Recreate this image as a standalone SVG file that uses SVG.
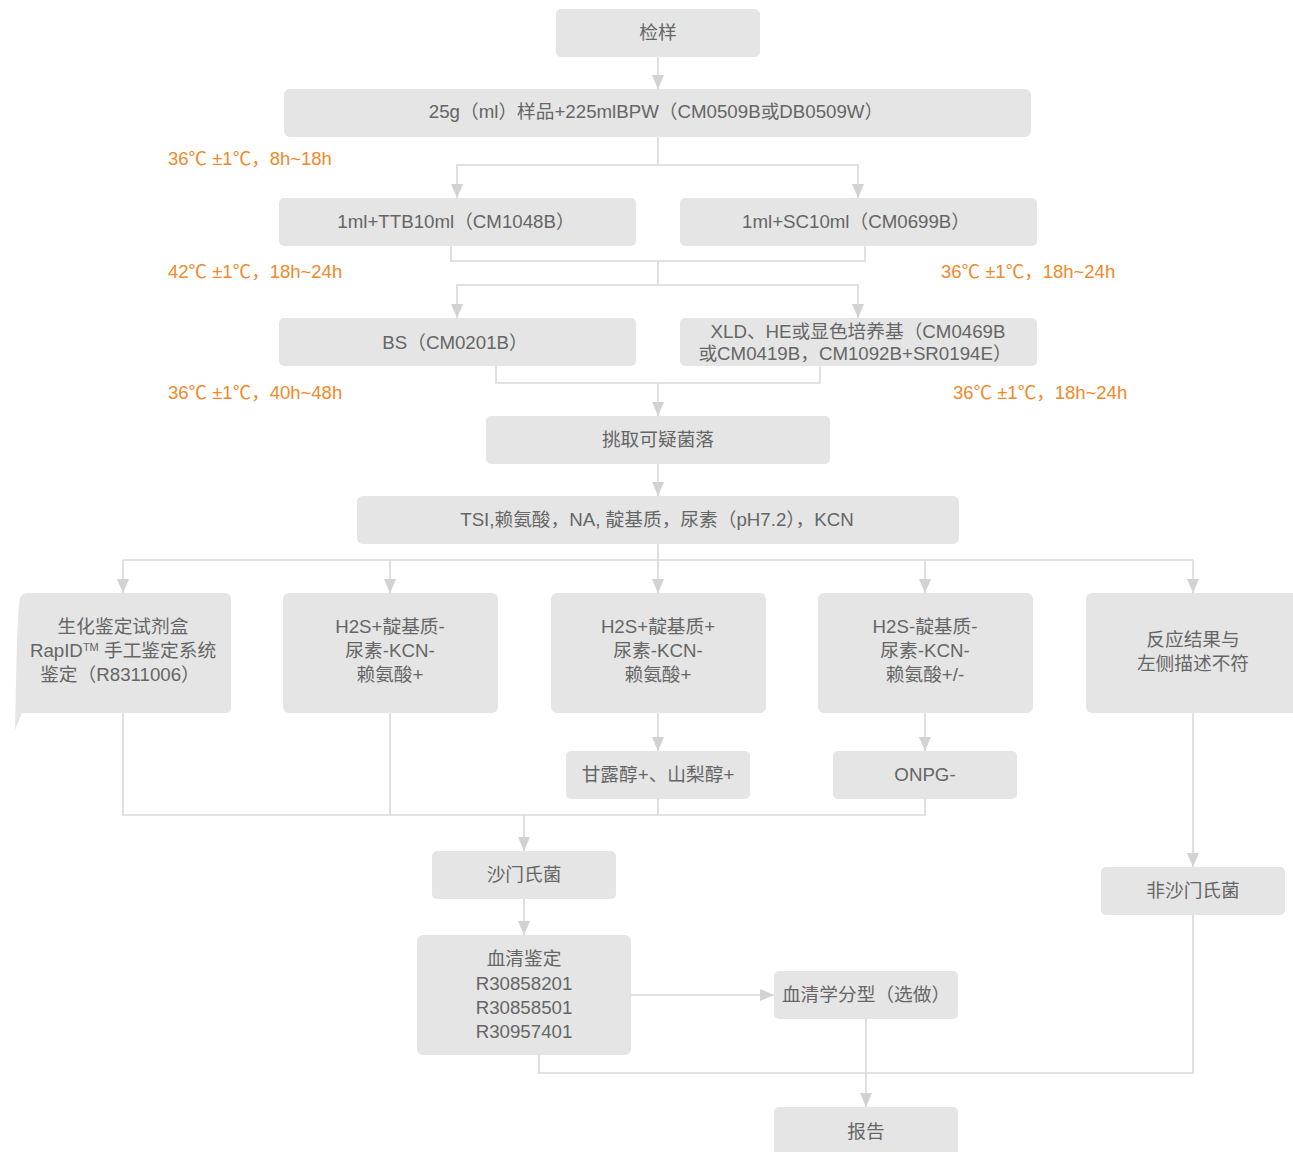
<svg xmlns="http://www.w3.org/2000/svg" width="1293" height="1152" viewBox="0 0 1293 1152">
<style>
.box{fill:#e5e5e5;}
.t{font-family:"Liberation Sans","Noto Sans CJK SC",sans-serif;font-size:18.7px;fill:#666;text-anchor:middle;}
.o{font-family:"Liberation Sans","Noto Sans CJK SC",sans-serif;font-size:18.5px;fill:#f0892a;}
.c{fill:none;stroke:#d9d9d9;stroke-width:1.6;}
</style>
<defs>
<marker id="ar" markerUnits="userSpaceOnUse" markerWidth="14" markerHeight="16" refX="14" refY="6" orient="auto">
<path d="M0,0 L14,6 L0,12 Z" fill="#d2d2d2"/>
</marker>
</defs>
<rect width="1293" height="1152" fill="#fff"/>

<g id="connectors">
<path class="c" d="M658,57 V89" marker-end="url(#ar)"/>
<path class="c" d="M658,137 V165 H457 V198" marker-end="url(#ar)"/>
<path class="c" d="M658,165 H858 V198" marker-end="url(#ar)"/>
<path class="c" d="M451,246 V261 H865 V246"/>
<path class="c" d="M658,261 V285 H457 V318" marker-end="url(#ar)"/>
<path class="c" d="M658,285 H858 V318" marker-end="url(#ar)"/>
<path class="c" d="M496,366 V383 H820 V366"/>
<path class="c" d="M658,383 V416" marker-end="url(#ar)"/>
<path class="c" d="M658,464 V496" marker-end="url(#ar)"/>
<path class="c" d="M658,544 V560"/>
<path class="c" d="M123,560 H1193"/>
<path class="c" d="M123,560 V593" marker-end="url(#ar)"/>
<path class="c" d="M390,560 V593" marker-end="url(#ar)"/>
<path class="c" d="M658,560 V593" marker-end="url(#ar)"/>
<path class="c" d="M925,560 V593" marker-end="url(#ar)"/>
<path class="c" d="M1193,560 V593" marker-end="url(#ar)"/>
<path class="c" d="M658,713 V751" marker-end="url(#ar)"/>
<path class="c" d="M925,713 V751" marker-end="url(#ar)"/>
<path class="c" d="M123,713 V815 H925 V799"/>
<path class="c" d="M390,713 V815"/>
<path class="c" d="M658,799 V815"/>
<path class="c" d="M524,815 V851" marker-end="url(#ar)"/>
<path class="c" d="M1193,713 V867" marker-end="url(#ar)"/>
<path class="c" d="M524,899 V935" marker-end="url(#ar)"/>
<path class="c" d="M631,995 H774" marker-end="url(#ar)"/>
<path class="c" d="M539,1055 V1073 H1193 V915"/>
<path class="c" d="M866,1019 V1107" marker-end="url(#ar)"/>
</g>

<g id="labels">
<text class="o" x="168" y="165">36℃ ±1℃，8h~18h</text>
<text class="o" x="168" y="278">42℃ ±1℃，18h~24h</text>
<text class="o" x="941" y="278">36℃ ±1℃，18h~24h</text>
<text class="o" x="168" y="399">36℃ ±1℃，40h~48h</text>
<text class="o" x="953" y="399">36℃ ±1℃，18h~24h</text>
</g>

<g id="n1"><rect class="box" x="556" y="9" width="204" height="48" rx="5"/><text class="t" x="658" y="39">检样</text></g>
<g id="n2"><rect class="box" x="284" y="89" width="747" height="48" rx="6"/><text class="t" x="656" y="118">25g（ml）样品+225mlBPW（CM0509B或DB0509W）</text></g>
<g id="n3"><rect class="box" x="279" y="198" width="357" height="48" rx="5"/><text class="t" x="456" y="228">1ml+TTB10ml（CM1048B）</text></g>
<g id="n4"><rect class="box" x="680" y="198" width="357" height="48" rx="5"/><text class="t" x="856" y="228">1ml+SC10ml（CM0699B）</text></g>
<g id="n5"><rect class="box" x="279" y="318" width="357" height="48" rx="5"/><text class="t" x="455" y="349">BS（CM0201B）</text></g>
<g id="n6"><rect class="box" x="680" y="318" width="357" height="48" rx="5"/><text class="t" x="858" y="338">XLD、HE或显色培养基（CM0469B</text><text class="t" x="855" y="360">或CM0419B，CM1092B+SR0194E）</text></g>
<g id="n7"><rect class="box" x="486" y="416" width="344" height="48" rx="5"/><text class="t" x="658" y="446">挑取可疑菌落</text></g>
<g id="n8"><rect class="box" x="357" y="496" width="602" height="48" rx="6"/><text class="t" x="657" y="526">TSI,赖氨酸，NA, 靛基质，尿素（pH7.2），KCN</text></g>
<g id="n9"><path class="box" d="M27,593 H225 Q231,593 231,599 V707 Q231,713 225,713 H22 L15,730 L16,680 L17,640 L19,603 Q20,593 27,593 Z"/><text class="t" x="123" y="633">生化鉴定试剂盒</text><text class="t" x="123" y="657">RapID<tspan font-size="11" dy="-6">TM</tspan><tspan dy="6"> 手工鉴定系统</tspan></text><text class="t" x="120" y="681">鉴定（R8311006）</text></g>
<g id="n10"><rect class="box" x="283" y="593" width="215" height="120" rx="6"/><text class="t" x="390" y="633">H2S+靛基质-</text><text class="t" x="390" y="657">尿素-KCN-</text><text class="t" x="390" y="681">赖氨酸+</text></g>
<g id="n11"><rect class="box" x="551" y="593" width="215" height="120" rx="6"/><text class="t" x="658" y="633">H2S+靛基质+</text><text class="t" x="658" y="657">尿素-KCN-</text><text class="t" x="658" y="681">赖氨酸+</text></g>
<g id="n12"><rect class="box" x="818" y="593" width="215" height="120" rx="6"/><text class="t" x="925" y="633">H2S-靛基质-</text><text class="t" x="925" y="657">尿素-KCN-</text><text class="t" x="925" y="681">赖氨酸+/-</text></g>
<g id="n13"><rect class="box" x="1086" y="593" width="215" height="120" rx="6"/><text class="t" x="1193" y="646">反应结果与</text><text class="t" x="1193" y="670">左侧描述不符</text></g>
<g id="n14"><rect class="box" x="566" y="751" width="184" height="48" rx="5"/><text class="t" x="658" y="781">甘露醇+、山梨醇+</text></g>
<g id="n15"><rect class="box" x="833" y="751" width="184" height="48" rx="5"/><text class="t" x="925" y="781">ONPG-</text></g>
<g id="n16"><rect class="box" x="432" y="851" width="184" height="48" rx="5"/><text class="t" x="524" y="881">沙门氏菌</text></g>
<g id="n17"><rect class="box" x="1101" y="867" width="184" height="48" rx="5"/><text class="t" x="1193" y="897">非沙门氏菌</text></g>
<g id="n18"><rect class="box" x="417" y="935" width="214" height="120" rx="6"/><text class="t" x="524" y="965">血清鉴定</text><text class="t" x="524" y="990">R30858201</text><text class="t" x="524" y="1014">R30858501</text><text class="t" x="524" y="1038">R30957401</text></g>
<g id="n19"><rect class="box" x="774" y="971" width="184" height="48" rx="5"/><text class="t" x="866" y="1001">血清学分型（选做）</text></g>
<g id="n20"><rect class="box" x="774" y="1107" width="184" height="60" rx="5"/><text class="t" x="866" y="1138">报告</text></g>
</svg>
